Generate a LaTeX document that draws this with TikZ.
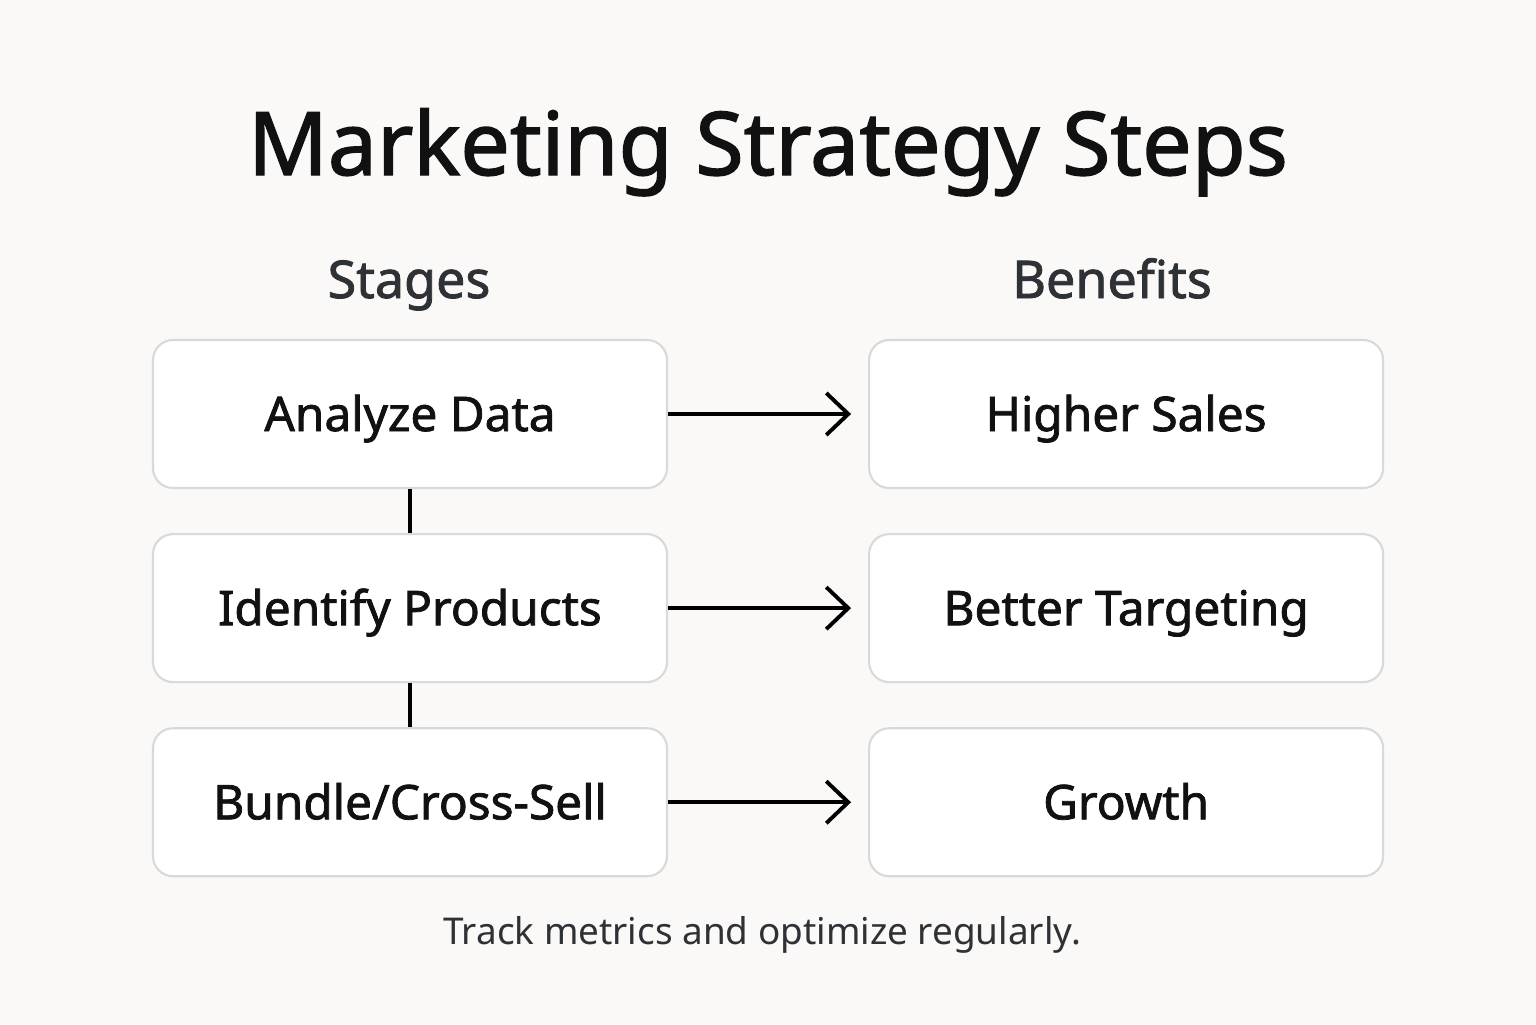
\documentclass[tikz,border=0pt]{standalone}
\usepackage{fontspec}
\setmainfont{Noto Sans}
\newfontfamily\medfont[FakeBold=1.6]{Noto Sans}
\usetikzlibrary{positioning,arrows.meta}
\definecolor{bgpaper}{HTML}{FAF9F7}
\definecolor{boxline}{HTML}{D9D9D9}
\definecolor{headgray}{HTML}{2E3135}
\definecolor{inkblack}{HTML}{111111}

\begin{document}
\begin{tikzpicture}[node distance=0.44cm and 2cm,
  stagebox/.style={draw=boxline, line width=0.6pt, fill=white, rounded corners=0.2cm,
    minimum width=5.14cm, minimum height=1.48cm, text=inkblack,
    text height=9.7pt, text depth=0pt,
    font=\medfont\fontsize{13.6}{16}\selectfont},
  heading/.style={anchor=base, text=headgray, font=\medfont\fontsize{14.8}{18}\selectfont},
  flow/.style={-{Straight Barb[length=2.2mm,width=4.2mm]}, line width=1.1pt, shorten >=0.17cm}]
\fill[bgpaper] (0,0) rectangle (15.36,-10.24);
\useasboundingbox (0,0) rectangle (15.36,-10.24);
\node[anchor=base, text=inkblack] (title) at (7.68,-1.75)
  {\medfont\fontsize{25}{30}\selectfont Marketing Strategy Steps};
\node[heading] (stages) at (4.09,-2.98) {Stages};
\node[heading] (benefits) at (11.12,-2.98) {Benefits};
\node[stagebox] (a1) at (4.10,-4.14) {Analyze Data};
\node[stagebox] (a2) [below=of a1] {Identify Products};
\node[stagebox] (a3) [below=of a2] {Bundle/Cross-Sell};
\node[stagebox] (b1) [right=of a1] {Higher Sales};
\node[stagebox] (b2) [right=of a2] {Better Targeting};
\node[stagebox] (b3) [right=of a3] {Growth};
\node[anchor=base, text=headgray] (note) at (7.62,-9.44)
  {\fontsize{10.5}{13}\selectfont Track metrics and optimize regularly.};
\draw[line width=1.1pt] (a1) -- (a2);
\draw[line width=1.1pt] (a2) -- (a3);
\draw[flow] (a1) -- (b1);
\draw[flow] (a2) -- (b2);
\draw[flow] (a3) -- (b3);
\end{tikzpicture}
\end{document}
